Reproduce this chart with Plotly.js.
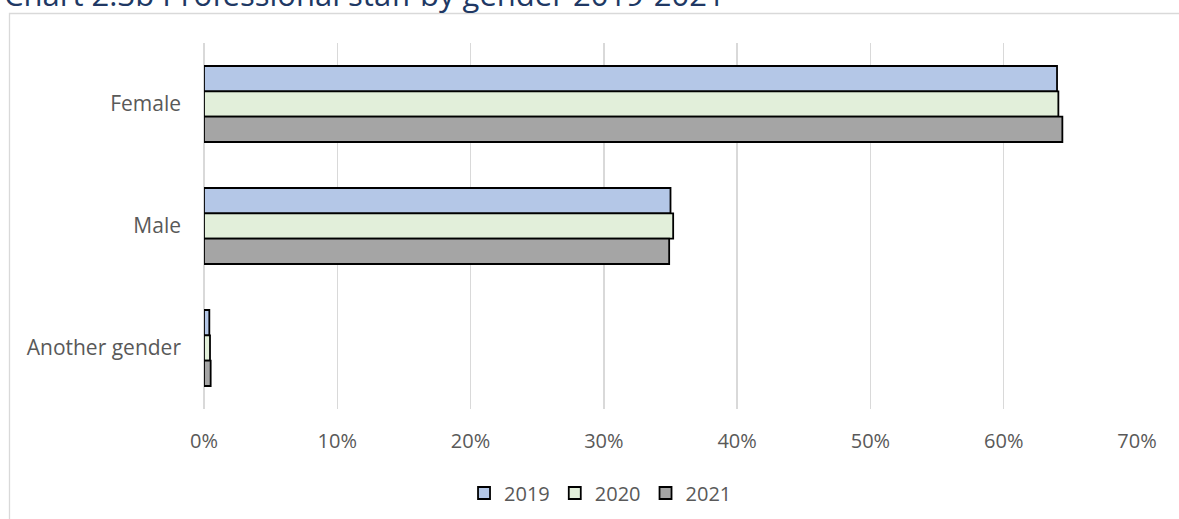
<!DOCTYPE html>
<html>
<head>
<meta charset="utf-8">
<script src="https://cdn.plot.ly/plotly-3.0.1.min.js"></script>
<style>html,body{margin:0;padding:0;background:#fff;}#chart{width:1179px;height:519px;}</style>
</head>
<body>
<div id="chart"></div>
<script>
const categories = ["Female", "Male", "Another gender"];
const years = ["2019", "2020", "2021"];
const values2019 = [0.640, 0.350, 0.004];
const values2020 = [0.641, 0.352, 0.0045];
const values2021 = [0.644, 0.349, 0.005];
const colors = ["#B4C7E7", "#E2EFDA", "#A5A5A5"];
const tickVals = [0, 0.1, 0.2, 0.3, 0.4, 0.5, 0.6, 0.7];
const tickText = ["0%", "10%", "20%", "30%", "40%", "50%", "60%", "70%"];
const titleText = "Chart 2.3b Professional staff by gender 2019-2021";

const series = [values2019, values2020, values2021];
const fontFam = "'Open Sans', sans-serif";

const traces = series.map((vals, i) => ({
  type: "bar",
  orientation: "h",
  name: years[i],
  y: categories,
  x: vals,
  marker: { color: colors[i], line: { color: "#000000", width: 1.8 } },
  hoverinfo: "skip"
}));

const layout = {
  width: 1179,
  height: 519,
  margin: { l: 204, r: 42, t: 43, b: 110, pad: 0, autoexpand: false },
  paper_bgcolor: "#ffffff",
  plot_bgcolor: "#ffffff",
  font: { family: fontFam, size: 20, color: "#595959" },
  barmode: "group",
  bargap: 0.377,
  bargroupgap: 0,
  showlegend: true,
  legend: {
    orientation: "h",
    x: 0.425, xanchor: "center",
    y: -0.2295, yanchor: "middle",
    font: { family: fontFam, size: 20, color: "#595959" },
    traceorder: "normal",
    itemwidth: 30
  },
  xaxis: {
    range: [0, 0.7],
    tickvals: tickVals,
    ticktext: tickText,
    showgrid: true,
    gridcolor: "#d9d9d9",
    gridwidth: 1.3,
    zeroline: true,
    zerolinecolor: "#d9d9d9",
    zerolinewidth: 1.3,
    showline: false,
    ticks: "",
    ticklabelstandoff: 18,
    tickfont: { family: fontFam, size: 20, color: "#595959" },
    fixedrange: true
  },
  yaxis: {
    type: "category",
    autorange: "reversed",
    showgrid: false,
    zeroline: false,
    showline: false,
    ticks: "",
    ticklabelstandoff: 22,
    tickfont: { family: fontFam, size: 21, color: "#595959" },
    fixedrange: true
  },
  annotations: [{
    text: titleText,
    xref: "paper", yref: "paper",
    x: (2 - 204) / 933, xanchor: "left",
    y: 1 + 49 / 366, yanchor: "middle",
    showarrow: false,
    font: { family: fontFam, size: 31, color: "#203864" }
  }],
  shapes: [{
    type: "rect",
    xref: "paper", yref: "paper",
    x0: (9.5 - 204) / 933, x1: 1.2,
    y0: -1, y1: 1 + (43 - 13.5) / 366,
    line: { color: "#d9d9d9", width: 1.3 },
    fillcolor: "rgba(0,0,0,0)",
    layer: "below"
  }]
};

Plotly.newPlot("chart", traces, layout, { displayModeBar: false, staticPlot: true });
</script>
</body>
</html>
